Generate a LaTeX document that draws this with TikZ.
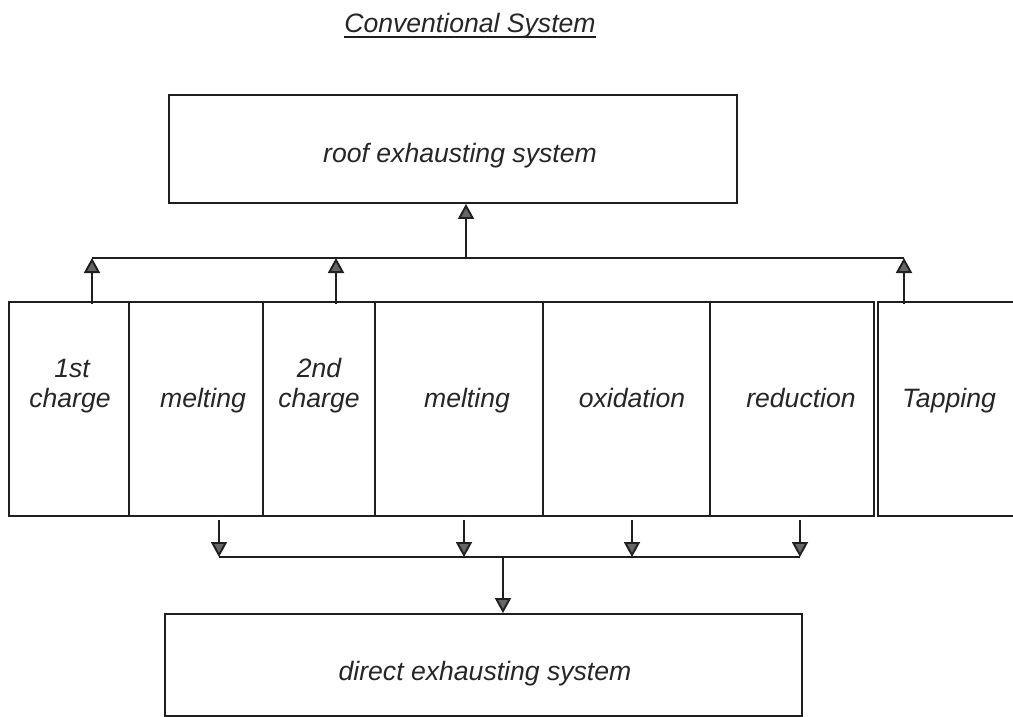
\documentclass[tikz,border=0pt]{standalone}
\usepackage{fontspec}
\setmainfont{Liberation Sans}
\usetikzlibrary{arrows.meta,calc}
\begin{document}
\begin{tikzpicture}[x=1pt,y=-1pt,
  frame/.style={draw=black!88, line width=1.9pt, inner sep=0pt, rectangle},
  lbl/.style={font=\itshape\fontsize{26.6}{30}\selectfont, text=black!85, inner sep=0pt, anchor=base},
  conn/.style={draw=black!88, line width=1.9pt},
  arr/.style={conn, -{Triangle[length=15pt,width=16pt,fill=black!60]}}]
\useasboundingbox[fill=white] (0,0) rectangle (1013,717);

% title
\node[lbl] (title) at (470,33) {Conventional System};
\draw[conn, line width=1.6pt] ([yshift=-4pt]title.base west) -- ([yshift=-4pt]title.base east);

% roof box
\node[frame, minimum width=568pt, minimum height=108pt] (roof) at (453,149) {};
\node[lbl] (rooft) at (460,162) {roof exhausting system};

% stage boxes
\node[frame, minimum width=120pt, minimum height=214pt] (s1) at (69,409) {};
\node[frame, minimum width=134pt, minimum height=214pt] (s2) at (196,409) {};
\node[frame, minimum width=112pt, minimum height=214pt] (s3) at (319,409) {};
\node[frame, minimum width=168pt, minimum height=214pt] (s4) at (459,409) {};
\node[frame, minimum width=167pt, minimum height=214pt] (s5) at (626.5,409) {};
\node[frame, minimum width=164pt, minimum height=214pt] (s6) at (792,409) {};
\node[frame, minimum width=140pt, minimum height=214pt] (s7) at (948,409) {};

\node[lbl] (t1a) at (72,377) {1st};
\node[lbl] (t1b) at (70,407) {charge};
\node[lbl] (t2) at (203,407) {melting};
\node[lbl] (t3a) at (319,377) {2nd};
\node[lbl] (t3b) at (319,407) {charge};
\node[lbl] (t4) at (467,407) {melting};
\node[lbl] (t5) at (632,407) {oxidation};
\node[lbl] (t6) at (801,407) {reduction};
\node[lbl] (t7) at (949,407) {Tapping};

% direct box
\node[frame, minimum width=637pt, minimum height=102pt] (direct) at (483.5,665) {};
\node[lbl] (directt) at (485,680) {direct exhausting system};

% upper collector
\coordinate (bu1) at (92,258);
\coordinate (bu2) at (336,258);
\coordinate (bu3) at (904,258);
\coordinate (bur) at (466,258);
\draw[conn] (bu1) -- (bu3);
\draw[arr] ([yshift=-3pt]s1.north -| bu1) -- (bu1);
\draw[arr] ([yshift=-3pt]s3.north -| bu2) -- (bu2);
\draw[arr] ([yshift=-3pt]s7.north -| bu3) -- (bu3);
\draw[arr] (bur) -- (roof.south -| bur);

% lower collector
\coordinate (bd1) at (219,557);
\coordinate (bd2) at (464,557);
\coordinate (bd3) at (632,557);
\coordinate (bd4) at (800,557);
\coordinate (bdc) at (503,557);
\draw[conn] (bd1) -- (bd4);
\draw[arr] ([yshift=-3pt]s2.south -| bd1) -- (bd1);
\draw[arr] ([yshift=-3pt]s4.south -| bd2) -- (bd2);
\draw[arr] ([yshift=-3pt]s5.south -| bd3) -- (bd3);
\draw[arr] ([yshift=-3pt]s6.south -| bd4) -- (bd4);
\draw[arr] (bdc) -- (direct.north -| bdc);
\end{tikzpicture}
\end{document}
